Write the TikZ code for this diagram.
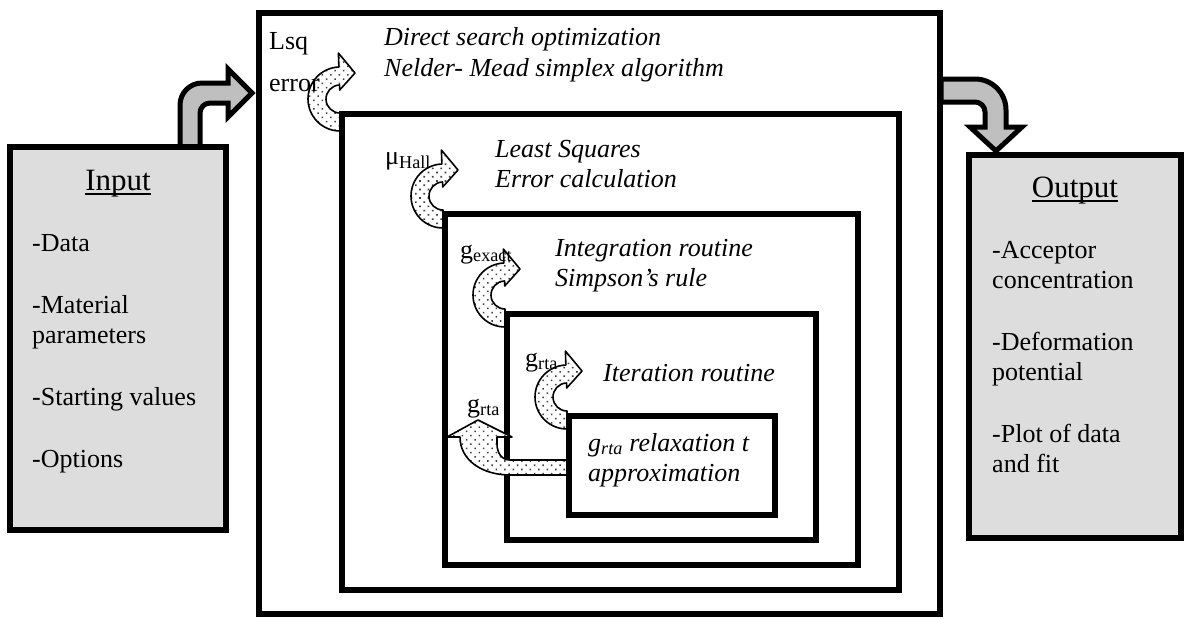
\documentclass[tikz,border=0pt]{standalone}
\usepackage{fontspec}
\setmainfont{Liberation Serif}
\usetikzlibrary{calc,patterns.meta}

\tikzset{
  box/.style={draw, line width=5.5pt, fill=white},
  sidebox/.style={draw, line width=6pt, fill=gray!27},
  bigarrow/.style={draw, line width=5pt, fill=gray!50},
  dotarrow/.style={draw, line width=1.6pt, line join=round, preaction={fill=white},
    pattern={Dots[distance=6pt,radius=1.1pt,angle=45]}, pattern color=black!75},
  txt/.style={inner sep=0pt, anchor=base west, align=left, font=\fontsize{26}{30}\selectfont},
  itxt/.style={txt, font=\fontsize{26}{30}\selectfont\itshape},
  head/.style={inner sep=0pt, anchor=base, font=\fontsize{31}{35}\selectfont},
}

%% curled dotted arrow turning round the point #1
\newcommand{\drawcurl}[1]{%
  \path[dotarrow] ($(#1)+(90:14)$) -- ($(#1)+(90:32)$)
    arc[start angle=90, end angle=268, radius=32]
    -- ($(#1)+(268:46)$) -- ($(#1)+(300:30)$) -- ($(#1)+(268:9)$)
    -- ($(#1)+(268:14)$) arc[start angle=268, end angle=90, radius=14] -- cycle;}

\begin{document}
\begin{tikzpicture}[x=1pt, y=-1pt, line join=miter]
	\useasboundingbox (0,0) rectangle (1185,618);
	%% corners of the nested boxes
	\path
	(259,13) coordinate (A1) (940,614) coordinate (B1)
	(342,114) coordinate (A2) (899,590) coordinate (B2)
	(445,214) coordinate (A3) (858,565) coordinate (B3)
	(507,314) coordinate (A4) (816,540) coordinate (B4)
	(569,416) coordinate (A5) (775,515) coordinate (B5)
	%% centres of the curled arrows
	(340,99) coordinate (Lsq)
	(443,196) coordinate (Hall)
	(505,295) coordinate (Exact)
	(567,397) coordinate (Rta)
	;
	
	%% grey arrows into and out of the fit
	\draw[bigarrow] (180,147) -- (180,105) arc[start angle=180, end angle=270, radius=22]
	-- (228,83) -- (228,69) -- (252,93) -- (228,117) -- (228,103) -- (210,103)
	arc[start angle=270, end angle=180, radius=10] -- (200,147) -- cycle;
	\draw[bigarrow] (941,79) -- (975,79) arc[start angle=270, end angle=360, radius=31]
	-- (1006,127) -- (1022,127) -- (996,151) -- (970,127) -- (985,127) -- (985,112)
	arc[start angle=0, end angle=-90, radius=10] -- (941,102) -- cycle;
	
	%% input and output boxes
	\draw[sidebox] (10,147) rectangle (226,530);
	\draw[sidebox] (969,155) rectangle (1181,538);
	
	%% nested boxes, each with its curled arrow
	\foreach \n/\c in {1/Lsq, 2/Hall, 3/Exact, 4/Rta}{
		\draw[box] (A\n) rectangle (B\n);
		\drawcurl{\c}
	}
	%% g_rta handed back upwards
	\path[dotarrow] (569,460) -- (510,460) .. controls (501,460) and (497,452) .. (497,444)
	-- (497,437) -- (512,437) -- (478,420) -- (447,437) -- (460,437)
	.. controls (460,460) and (482,475) .. (510,475) -- (569,475) -- cycle;
	\draw[box] (A5) rectangle (B5);
	
	%% texts (multi-line nodes sit on their last line)
	\node[head] (inhead) at (118,190) {Input};
	\draw[line width=1.3pt] ([yshift=-4pt]inhead.base west) -- ([yshift=-4pt]inhead.base east);
	\node[txt] (initems) at (32,467) {-Data\\[32pt]-Material\\parameters\\[32pt]-Starting values\\[32pt]-Options};
	\node[head] (outhead) at (1075,197) {Output};
	\draw[line width=1.3pt] ([yshift=-4pt]outhead.base west) -- ([yshift=-4pt]outhead.base east);
	\node[txt] (outitems) at (992,472) {-Acceptor\\concentration\\[32pt]-Deformation\\potential\\[32pt]-Plot of data\\and fit};
	
	\node[itxt] (search) at (384,76) {Direct search optimization\\Nelder- Mead simplex algorithm};
	\node[txt] (lsqlab) at (269,92) {Lsq\\[12pt]error};
	\node[txt] (halllab) at (385,164) {μ\textsubscript{Hall}};
	\node[itxt] (lsqcalc) at (495,187) {Least Squares\\Error calculation};
	\node[txt] (exactlab) at (460,258) {g\textsubscript{exact}};
	\node[itxt] (integ) at (555,286) {Integration routine\\Simpson’s rule};
	\node[txt] (rtalab) at (525,366) {g\textsubscript{rta}};
	\node[itxt] (iter) at (603,381) {Iteration routine};
	\node[txt] (rtaback) at (467,412) {g\textsubscript{rta}};
	\node[itxt] (relax) at (588,481) {g\textsubscript{rta} relaxation t\\approximation};
	
\end{tikzpicture}
\end{document}
